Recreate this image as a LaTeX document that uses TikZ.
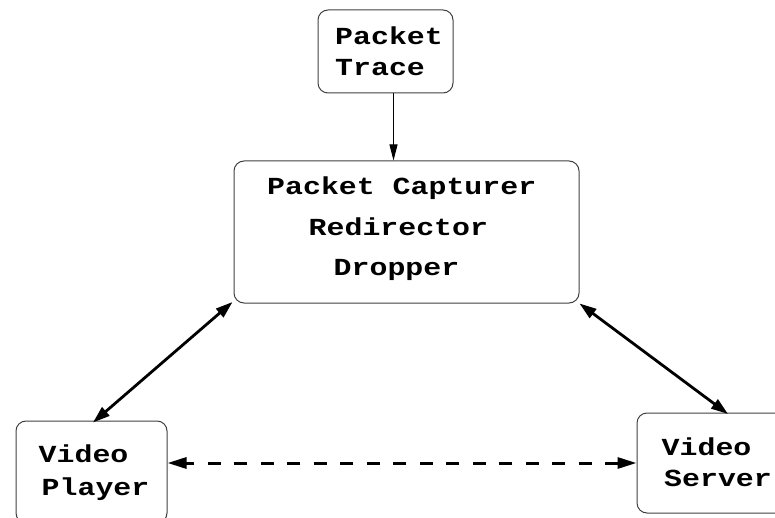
\documentclass[tikz,border=0pt]{standalone}
\usepackage{fontspec}
\newfontfamily\cour[FakeStretch=1.22]{Liberation Mono}
\usetikzlibrary{arrows.meta}
\begin{document}
\begin{tikzpicture}[x=1pt,y=-1pt,
  box/.style={draw=black!75, line width=1pt, rounded corners=10pt, inner sep=0pt},
  lbl/.style={anchor=base west, inner sep=0pt, font=\cour\bfseries\fontsize{24.5}{24.5}\selectfont},
  thinarrow/.style={line width=0.9pt, -{Triangle[length=16pt,width=8pt]}},
  bothways/.style={line width=2.8pt, {Triangle[length=17pt,width=11pt]}-{Triangle[length=17pt,width=11pt]}},
  dasharrow/.style={line width=3pt, dash pattern=on 13pt off 13.5pt, {Triangle[length=19pt,width=11pt]}-{Triangle[length=19pt,width=11pt]}},
]
\useasboundingbox (0,0) rectangle (775,518);

% boxes
\node[box, minimum width=135pt, minimum height=83pt] (trace) at (385.5,51.5) {};
\node[box, minimum width=345pt, minimum height=142pt] (main) at (406.5,232) {};
\node[box, minimum width=151pt, minimum height=102pt] (player) at (91.5,472) {};
\node[box, minimum width=163pt, minimum height=100pt] (server) at (718.5,463) {};

% texts
\node[lbl] (t1) at (335,45) {Packet};
\node[lbl] (t2) at (335,75.5) {Trace};
\node[lbl] (m1) at (267,195) {Packet Capturer};
\node[lbl] (m2) at (308.5,235.5) {Redirector};
\node[lbl] (m3) at (333.5,275.5) {Dropper};
\node[lbl] (p1) at (38.5,462.5) {Video};
\node[lbl] (p2) at (41.5,495) {Player};
\node[lbl] (s1) at (661.5,455) {Video};
\node[lbl] (s2) at (664,486) {Server};

% connectors
\draw[thinarrow] ([xshift=8pt]trace.south) -- ([xshift=8pt]trace.south |- main.north);
\draw[bothways] ([xshift=1.5pt,yshift=-2pt]player.north) -- ([xshift=-1pt,yshift=1.5pt]main.south west);
\draw[bothways] (main.south east) -- ([xshift=9.5pt,yshift=-1.5pt]server.north);
\draw[dasharrow] (server.west) -- (server.west -| player.east);
\end{tikzpicture}
\end{document}
